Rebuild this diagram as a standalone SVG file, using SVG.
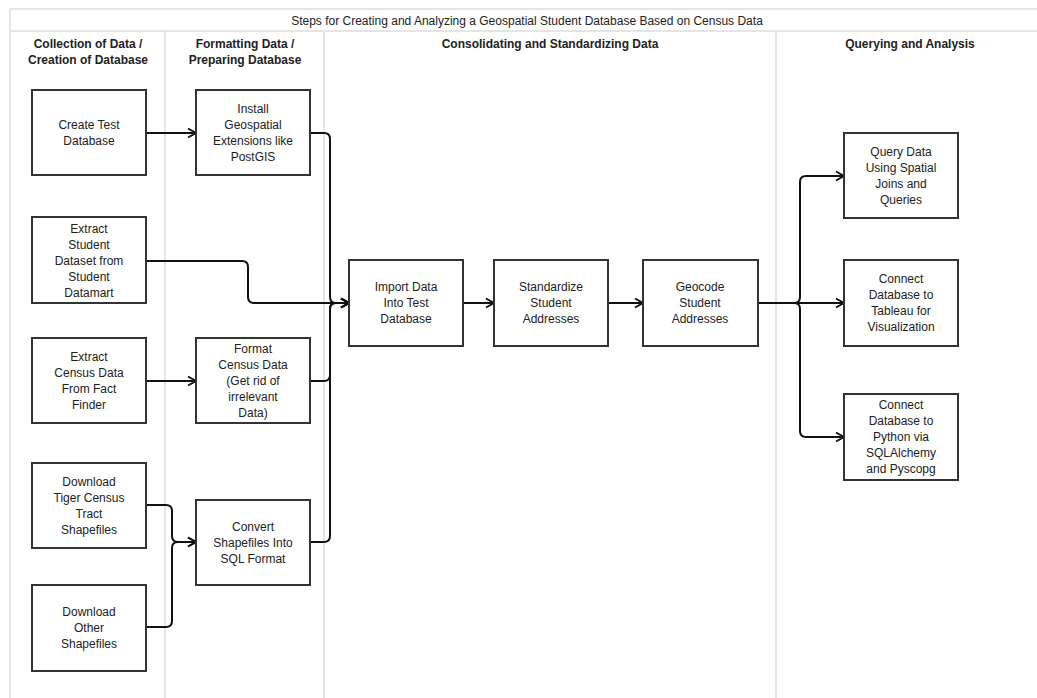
<svg xmlns="http://www.w3.org/2000/svg" width="1037" height="698" viewBox="0 0 1037 698">
<style>
.frame{stroke:#dddddd;stroke-width:1.5;fill:none}
.box{fill:#ffffff;stroke:#333333;stroke-width:2}
.t{font-family:"Liberation Sans",Arial,sans-serif;font-size:12px;fill:#222222;text-anchor:middle}
.h{font-weight:bold}
.c{fill:none;stroke:#111111;stroke-width:2;marker-end:url(#arr)}
</style>
<defs>
<marker id="arr" markerUnits="userSpaceOnUse" markerWidth="12" markerHeight="12" refX="10" refY="6" orient="auto">
<path d="M2,1.5 L10,6 L2,10.5" fill="none" stroke="#111111" stroke-width="2"/>
</marker>
</defs>
<rect width="1037" height="698" fill="#ffffff"/>
<g id="frame">
<line class="frame" x1="10" y1="9" x2="1037" y2="9"/>
<line class="frame" x1="10" y1="31" x2="1037" y2="31"/>
<line class="frame" x1="10" y1="9" x2="10" y2="698"/>
<line class="frame" x1="165" y1="31" x2="165" y2="698"/>
<line class="frame" x1="324" y1="31" x2="324" y2="698"/>
<line class="frame" x1="776" y1="31" x2="776" y2="698"/>
<text class="t" x="527" y="25">Steps for Creating and Analyzing a Geospatial Student Database Based on Census Data</text>
<text class="t h" x="88" y="48">Collection of Data /</text>
<text class="t h" x="88" y="64">Creation of Database</text>
<text class="t h" x="245" y="48">Formatting Data /</text>
<text class="t h" x="245" y="64">Preparing Database</text>
<text class="t h" x="550" y="48">Consolidating and Standardizing Data</text>
<text class="t h" x="910" y="48">Querying and Analysis</text>
</g>
<g id="connectors">
<path class="c" d="M146,133 H196"/>
<path class="c" d="M146,381 H196"/>
<path class="c" d="M146,261 H242 Q248,261 248,267 V297 Q248,303 254,303 H349"/>
<path class="c" d="M310,133 H324 Q330,133 330,139 V297 Q330,303 336,303 H349"/>
<path class="c" d="M310,381 H324 Q330,381 330,375 V309 Q330,303 336,303 H349"/>
<path class="c" d="M310,542 H324 Q330,542 330,536 V309 Q330,303 336,303 H349"/>
<path class="c" d="M146,505 H166 Q172,505 172,511 V536 Q172,542 178,542 H196"/>
<path class="c" d="M146,627 H166 Q172,627 172,621 V548 Q172,542 178,542 H196"/>
<path class="c" d="M463,303 H494"/>
<path class="c" d="M608,303 H643"/>
<path class="c" d="M758,303 H794 Q800,303 800,297 V182 Q800,176 806,176 H844"/>
<path class="c" d="M758,303 H844"/>
<path class="c" d="M758,303 H794 Q800,303 800,309 V431 Q800,437 806,437 H844"/>
</g>
<g id="create-test">
<rect class="box" x="32" y="90" width="114" height="85"/>
<text class="t" x="89" y="129">Create Test</text>
<text class="t" x="89" y="145">Database</text>
</g>
<g id="install-geo">
<rect class="box" x="196" y="90" width="114" height="85"/>
<text class="t" x="253" y="113">Install</text>
<text class="t" x="253" y="129">Geospatial</text>
<text class="t" x="253" y="145">Extensions like</text>
<text class="t" x="253" y="161">PostGIS</text>
</g>
<g id="extract-student">
<rect class="box" x="32" y="217" width="114" height="86"/>
<text class="t" x="89" y="233">Extract</text>
<text class="t" x="89" y="249">Student</text>
<text class="t" x="89" y="265">Dataset from</text>
<text class="t" x="89" y="281">Student</text>
<text class="t" x="89" y="297">Datamart</text>
</g>
<g id="extract-census">
<rect class="box" x="32" y="338" width="114" height="85"/>
<text class="t" x="89" y="361">Extract</text>
<text class="t" x="89" y="377">Census Data</text>
<text class="t" x="89" y="393">From Fact</text>
<text class="t" x="89" y="409">Finder</text>
</g>
<g id="format-census">
<rect class="box" x="196" y="338" width="114" height="85"/>
<text class="t" x="253" y="353">Format</text>
<text class="t" x="253" y="369">Census Data</text>
<text class="t" x="253" y="385">(Get rid of</text>
<text class="t" x="253" y="401">irrelevant</text>
<text class="t" x="253" y="417">Data)</text>
</g>
<g id="download-tiger">
<rect class="box" x="32" y="463" width="114" height="85"/>
<text class="t" x="89" y="486">Download</text>
<text class="t" x="89" y="502">Tiger Census</text>
<text class="t" x="89" y="518">Tract</text>
<text class="t" x="89" y="534">Shapefiles</text>
</g>
<g id="convert-shapefiles">
<rect class="box" x="196" y="500" width="114" height="85"/>
<text class="t" x="253" y="531">Convert</text>
<text class="t" x="253" y="547">Shapefiles Into</text>
<text class="t" x="253" y="563">SQL Format</text>
</g>
<g id="download-other">
<rect class="box" x="32" y="585" width="114" height="86"/>
<text class="t" x="89" y="616">Download</text>
<text class="t" x="89" y="632">Other</text>
<text class="t" x="89" y="648">Shapefiles</text>
</g>
<g id="import-data">
<rect class="box" x="349" y="260" width="114" height="86"/>
<text class="t" x="406" y="291">Import Data</text>
<text class="t" x="406" y="307">Into Test</text>
<text class="t" x="406" y="323">Database</text>
</g>
<g id="standardize">
<rect class="box" x="494" y="260" width="114" height="86"/>
<text class="t" x="551" y="291">Standardize</text>
<text class="t" x="551" y="307">Student</text>
<text class="t" x="551" y="323">Addresses</text>
</g>
<g id="geocode">
<rect class="box" x="643" y="260" width="115" height="86"/>
<text class="t" x="700" y="291">Geocode</text>
<text class="t" x="700" y="307">Student</text>
<text class="t" x="700" y="323">Addresses</text>
</g>
<g id="query-data">
<rect class="box" x="844" y="133" width="114" height="85"/>
<text class="t" x="901" y="156">Query Data</text>
<text class="t" x="901" y="172">Using Spatial</text>
<text class="t" x="901" y="188">Joins and</text>
<text class="t" x="901" y="204">Queries</text>
</g>
<g id="connect-tableau">
<rect class="box" x="844" y="260" width="114" height="86"/>
<text class="t" x="901" y="283">Connect</text>
<text class="t" x="901" y="299">Database to</text>
<text class="t" x="901" y="315">Tableau for</text>
<text class="t" x="901" y="331">Visualization</text>
</g>
<g id="connect-python">
<rect class="box" x="844" y="394" width="114" height="86"/>
<text class="t" x="901" y="409">Connect</text>
<text class="t" x="901" y="425">Database to</text>
<text class="t" x="901" y="441">Python via</text>
<text class="t" x="901" y="457">SQLAlchemy</text>
<text class="t" x="901" y="473">and Pyscopg</text>
</g>
</svg>
